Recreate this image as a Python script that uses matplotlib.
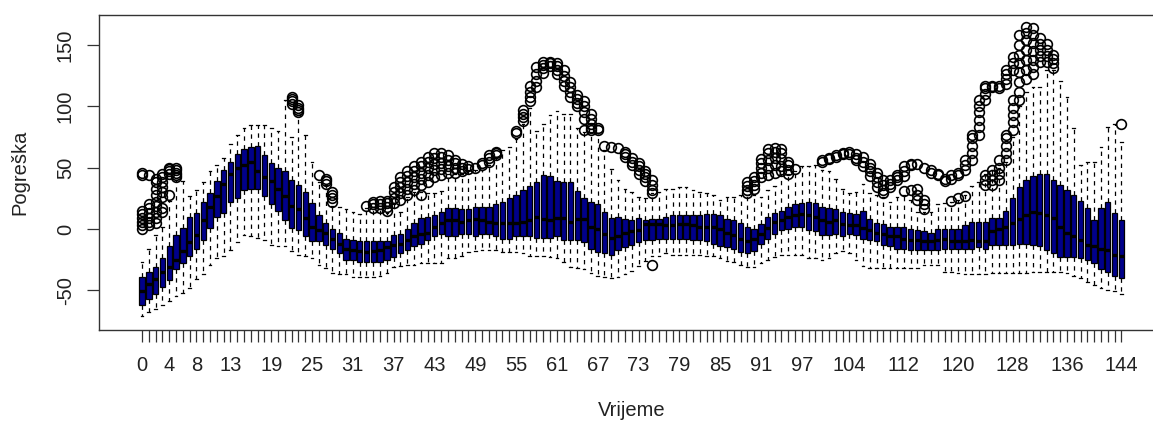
import matplotlib
matplotlib.use("Agg")
import matplotlib.pyplot as plt

plt.rcParams['font.family'] = ['Liberation Sans', 'DejaVu Sans']

# ---------------------------- data ----------------------------
times = list(range(145))

q1 = [-62, -57, -53, -47, -42, -33, -28, -22, -16, -9,
      1, 10, 13, 22, 25, 32, 33, 33, 27, 20,
      15, 7, 1, -1, -6, -10, -10, -13, -16, -20,
      -25, -25, -27, -27, -27, -27, -25, -23, -20, -17,
      -14, -12, -9, -6, -4, -6, -6, -4, -4, -6,
      -4, -4, -6, -8, -8, -6, -6, -6, -7, -7,
      -7, -6, -9, -9, -9, -11, -16, -19, -20, -21,
      -17, -15, -13, -11, -9, -9, -8, -8, -8, -8,
      -8, -9, -9, -10, -12, -14, -15, -16, -19, -20,
      -18, -12, -8, -4, -1, 0, 2, 2, -1, -2,
      -5, -5, -4, -6, -4, -5, -8, -9, -10, -13,
      -14, -16, -16, -17, -17, -17, -17, -17, -16, -16,
      -16, -16, -16, -15, -16, -13, -13, -13, -13, -12,
      -12, -13, -14, -17, -20, -23, -23, -23, -24, -25,
      -28, -33, -35, -38, -40]

med = [-51, -45, -41, -35, -31, -25, -18, -11, -5, 7,
       18, 27, 37, 45, 50, 52, 55, 47, 42, 39,
       33, 27, 19, 16, 9, 2, -1, -3, -8, -12,
       -16, -17, -18, -19, -18, -17, -15, -13, -12, -9,
       -6, -4, -3, 2, 5, 7, 7, 6, 7, 8,
       7, 6, 5, 5, 5, 5, 6, 7, 10, 8,
       7, 9, 9, 6, 8, 8, 2, 0, -4, -7,
       -6, -3, -2, -1, 4, 4, 4, 3, 3, 4,
       4, 3, 2, 2, 2, 0, -3, -5, -8, -10,
       -8, -4, 1, 6, 7, 10, 11, 12, 11, 10,
       7, 6, 7, 4, 3, 3, 1, -1, -3, -4,
       -6, -6, -8, -9, -9, -10, -10, -9, -8, -10,
       -10, -10, -9, -10, -10, -2, 0, 2, 5, 8,
       11, 14, 13, 11, 9, 2, -3, -6, -9, -13,
       -14, -16, -17, -21, -22]

q3 = [-39, -35, -31, -24, -14, -5, 1, 10, 13, 22,
      29, 39, 48, 55, 61, 65, 67, 68, 60, 54,
      50, 47, 40, 36, 30, 21, 11, 5, 0, -3,
      -8, -9, -10, -10, -10, -10, -10, -5, -4, 0,
      5, 9, 10, 11, 14, 17, 17, 16, 16, 18,
      18, 18, 20, 22, 25, 28, 32, 35, 38, 44,
      43, 39, 38, 38, 31, 25, 22, 20, 14, 9,
      10, 8, 7, 9, 7, 8, 8, 10, 11, 11,
      11, 11, 11, 12, 12, 11, 8, 7, 5, 2,
      0, 4, 10, 13, 15, 18, 20, 21, 22, 21,
      18, 17, 16, 14, 13, 12, 15, 8, 5, 4,
      2, 2, 2, 0, -1, -2, -3, 0, 0, 0,
      0, 3, 6, 6, 6, 9, 9, 15, 25, 34,
      40, 43, 45, 45, 40, 36, 32, 28, 23, 17,
      7, 17, 22, 13, 7]

whislo = [-71, -68, -65, -62, -59, -55, -52, -48, -41, -37,
          -29, -24, -22, -17, -11, -5, -6, -7, -9, -13,
          -14, -14, -18, -21, -22, -24, -29, -32, -36, -37,
          -37, -39, -39, -39, -39, -38, -36, -31, -30, -29,
          -29, -28, -28, -28, -28, -24, -24, -22, -19, -18,
          -17, -17, -17, -19, -19, -19, -20, -22, -22, -22,
          -23, -24, -27, -31, -32, -33, -36, -38, -39, -40,
          -39, -37, -34, -30, -26, -22, -22, -20, -21, -21,
          -21, -21, -21, -22, -22, -24, -26, -27, -29, -31,
          -31, -28, -25, -23, -21, -21, -21, -21, -24, -24,
          -25, -24, -20, -18, -20, -25, -30, -32, -32, -32,
          -32, -32, -32, -32, -32, -29, -29, -29, -35, -35,
          -36, -37, -37, -37, -37, -36, -36, -36, -36, -36,
          -36, -35, -35, -35, -35, -35, -36, -38, -40, -43,
          -46, -48, -50, -51, -53]

whishi = [-27, -16, -5, 2, 23, 40, 39, 27, 32, 38,
          47, 52, 58, 69, 77, 82, 85, 85, 85, 82,
          80, 105, 75, 93, 77, 55, 38, 36, 19, 18,
          16, 14, 12, 17, 16, 16, 13, 20, 14, 26,
          30, 30, 29, 29, 31, 45, 45, 45, 48, 48,
          48, 52, 59, 64, 67, 73, 86, 99, 80, 86,
          93, 96, 94, 94, 82, 79, 79, 78, 64, 49,
          40, 33, 30, 26, 25, 29, 30, 33, 33, 34,
          34, 32, 30, 29, 28, 24, 26, 26, 28, 28,
          28, 26, 32, 35, 45, 45, 47, 51, 51, 52,
          48, 47, 41, 33, 29, 30, 37, 29, 28, 26,
          22, 26, 28, 24, 14, 14, 14, 20, 21, 22,
          24, 28, 35, 38, 45, 48, 50, 55, 75, 100,
          112, 116, 116, 130, 130, 121, 108, 82, 52, 55,
          55, 67, 83, 86, 71]

outliers = {
    0: [0, 3, 6, 9, 12, 15, 44, 46],
    1: [3, 6, 9, 13, 17, 20, 44],
    2: [5, 9, 14, 19, 22, 28, 33, 38, 41],
    3: [14, 17, 26, 30, 34, 38, 42, 45],
    4: [28, 45, 47, 49, 50],
    5: [42, 44, 46, 48, 50],
    22: [102, 104, 106, 108],
    23: [95, 97, 99, 101],
    26: [44],
    27: [37, 39, 41],
    28: [22, 25, 28, 30],
    33: [19],
    34: [17, 20, 22],
    35: [17, 20, 23],
    36: [15, 18, 21, 23],
    37: [21, 25, 30, 34],
    38: [24, 29, 34, 38, 42],
    39: [28, 33, 38, 43, 47],
    40: [32, 37, 42, 47, 51],
    41: [28, 36, 41, 46, 51, 55],
    42: [38, 44, 50, 55, 59],
    43: [42, 48, 53, 58, 62],
    44: [44, 49, 54, 59, 62],
    45: [46, 51, 56, 60],
    46: [46, 50, 54, 56],
    47: [47, 50, 53],
    48: [49, 51],
    49: [50],
    50: [52, 54],
    51: [55, 58, 60],
    52: [60, 62, 63],
    55: [78, 80],
    56: [88, 91, 94, 97],
    57: [104, 108, 112, 117],
    58: [116, 121, 126, 132],
    59: [127, 131, 134, 136],
    60: [133, 135, 136],
    61: [126, 130, 133, 135],
    62: [117, 121, 125, 130],
    63: [108, 112, 116, 120],
    64: [100, 103, 106, 109],
    65: [81, 90, 95, 100, 104],
    66: [81, 82, 86, 90, 94],
    67: [81, 82],
    68: [68],
    69: [67],
    70: [66],
    71: [59, 61, 63],
    72: [52, 55, 58],
    73: [45, 48, 51, 54],
    74: [39, 42, 45, 47],
    75: [-29, 29, 32, 36, 40],
    89: [29, 32, 35, 38],
    90: [33, 36, 39, 42],
    91: [42, 46, 50, 54, 57],
    92: [44, 50, 56, 62, 65],
    93: [46, 52, 58, 63, 66],
    94: [47, 51, 57, 62, 65],
    95: [45, 48, 52, 55],
    96: [49],
    100: [55, 56],
    101: [57, 58],
    102: [59, 60],
    103: [61, 62],
    104: [61, 63],
    105: [56, 58, 61],
    106: [51, 55, 59],
    107: [43, 47, 50, 53],
    108: [34, 38, 42, 46],
    109: [29, 32, 36, 40],
    110: [34, 37, 40],
    111: [40, 42, 44],
    112: [31, 43, 47, 51],
    113: [32, 52, 53],
    114: [24, 28, 33, 53],
    115: [16, 20, 24, 50],
    116: [46, 48],
    117: [44, 45],
    118: [39, 41],
    119: [23, 41, 44],
    120: [25, 44, 46],
    121: [27, 48, 52, 56],
    122: [56, 62, 68, 74, 77],
    123: [77, 83, 89, 95, 100, 105],
    124: [36, 40, 44, 105, 110, 115, 117],
    125: [36, 40, 44, 48, 116, 117],
    126: [40, 45, 50, 56, 115, 117],
    127: [56, 62, 68, 74, 77, 118, 122, 126, 130],
    128: [81, 87, 93, 99, 105, 130, 135, 140],
    129: [105, 112, 120, 128, 135, 142, 150, 158],
    130: [122, 130, 138, 146, 154, 160, 165],
    131: [126, 132, 138, 145, 152, 158, 164],
    132: [136, 141, 146, 151, 156],
    133: [136, 141, 146, 151],
    134: [131, 135, 139, 142],
    144: [86],
}

shown_labels = [0, 4, 8, 13, 19, 25, 31, 37, 43, 49, 55, 61, 67, 73, 79, 85,
                91, 97, 104, 112, 120, 128, 136, 144]

# ---------------------------- plot ----------------------------
W, H = 1153, 421
fig = plt.figure(figsize=(W / 100, H / 100), dpi=100)
# plot box runs past the right edge of the picture, like the reference crop
ax = fig.add_axes([99.2 / W, (H - 330) / H, 1065 / W, 315 / H])

stats = []
for i, t in enumerate(times):
    stats.append(dict(med=med[i], q1=q1[i], q3=q3[i],
                      whislo=whislo[i], whishi=whishi[i],
                      fliers=outliers.get(t, [])))

ax.bxp(stats, positions=times, widths=0.8, capwidths=0.4,
       patch_artist=True, manage_ticks=False,
       boxprops=dict(facecolor='#00008B', edgecolor='black', linewidth=0.9),
       medianprops=dict(color='black', linewidth=2.4, solid_capstyle='butt'),
       whiskerprops=dict(color='black', linewidth=0.9, linestyle=(0, (3.5, 3.5))),
       capprops=dict(color='black', linewidth=0.9),
       flierprops=dict(marker='o', markerfacecolor='none', markeredgecolor='black',
                       markersize=7, markeredgewidth=1.2))

ax.set_xlim(-6.3, 150.3)
ax.set_ylim(-82.4, 174.5)

ax.set_xticks(times)
ax.set_xticklabels([str(t) if t in shown_labels else '' for t in times])
ax.set_yticks([-50, 0, 50, 100, 150])
ax.set_yticklabels(['-50', '0', '50', '100', '150'], rotation=90, va='center')

for s in ax.spines.values():
    s.set_color('#333333')
    s.set_linewidth(1.0)

ax.tick_params(axis='both', direction='out', length=8.6, width=0.9,
               color='#333333', labelsize=14.5, labelcolor='#222222')
ax.tick_params(axis='x', pad=10)
ax.tick_params(axis='y', pad=9)

ax.set_xlabel('Vrijeme', fontsize=14.5, color='#222222')
ax.set_ylabel('Pogreška', fontsize=14.5, color='#222222')
ax.xaxis.set_label_coords(0.5, -0.254)
ax.xaxis.label.set_va('center')
ax.yaxis.set_label_coords(-0.0744, 0.5)
ax.yaxis.label.set_va('center')

fig.savefig('out.png', dpi=100)
